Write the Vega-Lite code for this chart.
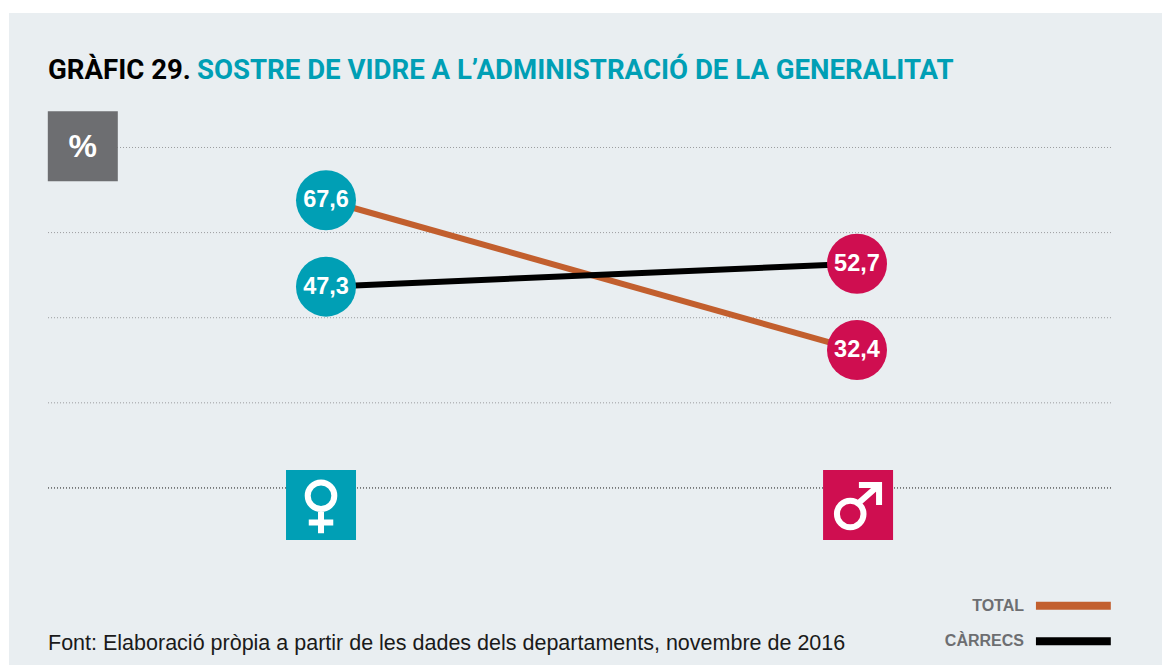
{"$schema":"https://vega.github.io/schema/vega-lite/v6.json","width":1153,"height":652,"autosize":"none","padding":{"left":9,"top":13,"right":0,"bottom":0},"background":"#ffffff","config":{"view":{"stroke":null,"fill":"#e9eef1"}},"datasets":{"series":[{"sexe":"Dona","pos":0,"serie":"TOTAL","valor":67.6,"etiqueta":"67,6"},{"sexe":"Home","pos":1,"serie":"TOTAL","valor":32.4,"etiqueta":"32,4"},{"sexe":"Dona","pos":0,"serie":"CÀRRECS","valor":47.3,"etiqueta":"47,3"},{"sexe":"Home","pos":1,"serie":"CÀRRECS","valor":52.7,"etiqueta":"52,7"}],"grid":[{"v":20},{"v":40},{"v":60},{"v":80}],"icons":[{"sexe":"Dona","pos":-0.0094,"v":-4},{"sexe":"Home","pos":1.002,"v":-4}],"legend":[{"serie":"TOTAL","v":-27.7},{"serie":"CÀRRECS","v":-36}]},"data":{"name":"series"},"layer":[
{"data":{"name":"grid"},"mark":{"type":"rule","stroke":"#9a9c9e","strokeWidth":1,"strokeDash":[1,2]},"encoding":{"y":{"field":"v","type":"quantitative","scale":{"domain":[-41.6,111.6],"nice":false,"zero":false},"axis":null},"x":{"datum":-0.5235,"type":"quantitative","scale":{"domain":[-0.597,1.5744],"nice":false,"zero":false},"axis":null},"x2":{"datum":1.4802}}},
{"data":{"values":[{"v":0}]},"mark":{"type":"rule","stroke":"#111111","strokeWidth":1,"strokeDash":[1,2]},"encoding":{"y":{"field":"v","type":"quantitative"},"x":{"datum":-0.5235,"type":"quantitative"},"x2":{"datum":1.4802}}},
{"data":{"values":[{"t":"%"}]},"mark":{"type":"point","shape":"square","filled":true,"size":4900,"fill":"#6d6e71","opacity":1},"encoding":{"x":{"datum":-0.458,"type":"quantitative"},"y":{"datum":80.3,"type":"quantitative"}}},
{"data":{"values":[{"t":"%"}]},"mark":{"type":"text","font":"Liberation Sans","fontWeight":"bold","fontSize":32,"fill":"#ffffff"},"encoding":{"x":{"datum":-0.458,"type":"quantitative"},"y":{"datum":80,"type":"quantitative"},"text":{"field":"t"}}},
{"mark":{"type":"line","strokeWidth":6},"encoding":{"x":{"field":"pos","type":"quantitative"},"y":{"field":"valor","type":"quantitative"},"detail":{"field":"serie"},"color":{"field":"serie","type":"nominal","scale":{"domain":["TOTAL","CÀRRECS"],"range":["#c25f2e","#000000"]},"legend":null}}},
{"mark":{"type":"point","shape":"circle","filled":true,"size":3600,"opacity":1},"encoding":{"x":{"field":"pos","type":"quantitative"},"y":{"field":"valor","type":"quantitative"},"fill":{"field":"sexe","type":"nominal","scale":{"domain":["Dona","Home"],"range":["#009fb5","#cf0e50"]},"legend":null}}},
{"mark":{"type":"text","font":"Liberation Sans","fontWeight":"bold","fontSize":23.5,"fill":"#ffffff"},"encoding":{"x":{"field":"pos","type":"quantitative"},"y":{"field":"valor","type":"quantitative"},"text":{"field":"etiqueta"}}},
{"data":{"name":"icons"},"mark":{"type":"point","shape":"square","filled":true,"size":4900,"opacity":1},"encoding":{"x":{"field":"pos","type":"quantitative"},"y":{"field":"v","type":"quantitative"},"fill":{"field":"sexe","type":"nominal"}}},
{"data":{"name":"icons"},"transform":[{"filter":"datum.sexe==='Dona'"}],"mark":{"type":"point","filled":false,"size":4900,"stroke":"#ffffff","strokeWidth":6,"opacity":1,"shape":"M-0.38,-0.262 A0.38,0.38 0 1,1 0.38,-0.262 A0.38,0.38 0 1,1 -0.38,-0.262 Z M0,0.19 L0,0.81 M-0.35,0.504 L0.35,0.504"},"encoding":{"x":{"field":"pos","type":"quantitative"},"y":{"field":"v","type":"quantitative"}}},
{"data":{"name":"icons"},"transform":[{"filter":"datum.sexe==='Home'"}],"mark":{"type":"point","filled":false,"size":4900,"stroke":"#ffffff","strokeWidth":6,"opacity":1,"shape":"M-0.604,0.256 A0.38,0.38 0 1,1 0.156,0.256 A0.38,0.38 0 1,1 -0.604,0.256 Z M0.04,-0.08 L0.6,-0.57 M0.024,-0.57 L0.6,-0.57 L0.6,0"},"encoding":{"x":{"field":"pos","type":"quantitative"},"y":{"field":"v","type":"quantitative"}}},
{"data":{"name":"legend"},"mark":{"type":"rule","strokeWidth":8},"encoding":{"y":{"field":"v","type":"quantitative"},"x":{"datum":1.337,"type":"quantitative"},"x2":{"datum":1.478},"color":{"field":"serie","type":"nominal"}}},
{"data":{"name":"legend"},"mark":{"type":"text","font":"Liberation Sans","fontWeight":"bold","fontSize":16,"align":"right","fill":"#6d6e71"},"encoding":{"y":{"field":"v","type":"quantitative"},"x":{"datum":1.3145,"type":"quantitative"},"text":{"field":"serie"}}},
{"data":{"values":[{"t":"GRÀFIC 29."}]},"mark":{"type":"text","font":"Roboto","fontWeight":"bold","fontSize":27.6,"align":"left","fill":"#000000"},"encoding":{"x":{"datum":-0.5235,"type":"quantitative"},"y":{"datum":97.9,"type":"quantitative"},"text":{"field":"t"}}},
{"data":{"values":[{"t":"SOSTRE DE VIDRE A L’ADMINISTRACIÓ DE LA GENERALITAT"}]},"mark":{"type":"text","font":"Roboto","fontWeight":"bold","fontSize":27.6,"align":"left","fill":"#009fb5"},"encoding":{"x":{"datum":-0.243,"type":"quantitative"},"y":{"datum":97.9,"type":"quantitative"},"text":{"field":"t"}}},
{"data":{"values":[{"t":"Font: Elaboració pròpia a partir de les dades dels departaments, novembre de 2016"}]},"mark":{"type":"text","font":"Liberation Sans","fontSize":21.5,"align":"left","fill":"#1a1a1a"},"encoding":{"x":{"datum":-0.5235,"type":"quantitative"},"y":{"datum":-36.7,"type":"quantitative"},"text":{"field":"t"}}}
]}
